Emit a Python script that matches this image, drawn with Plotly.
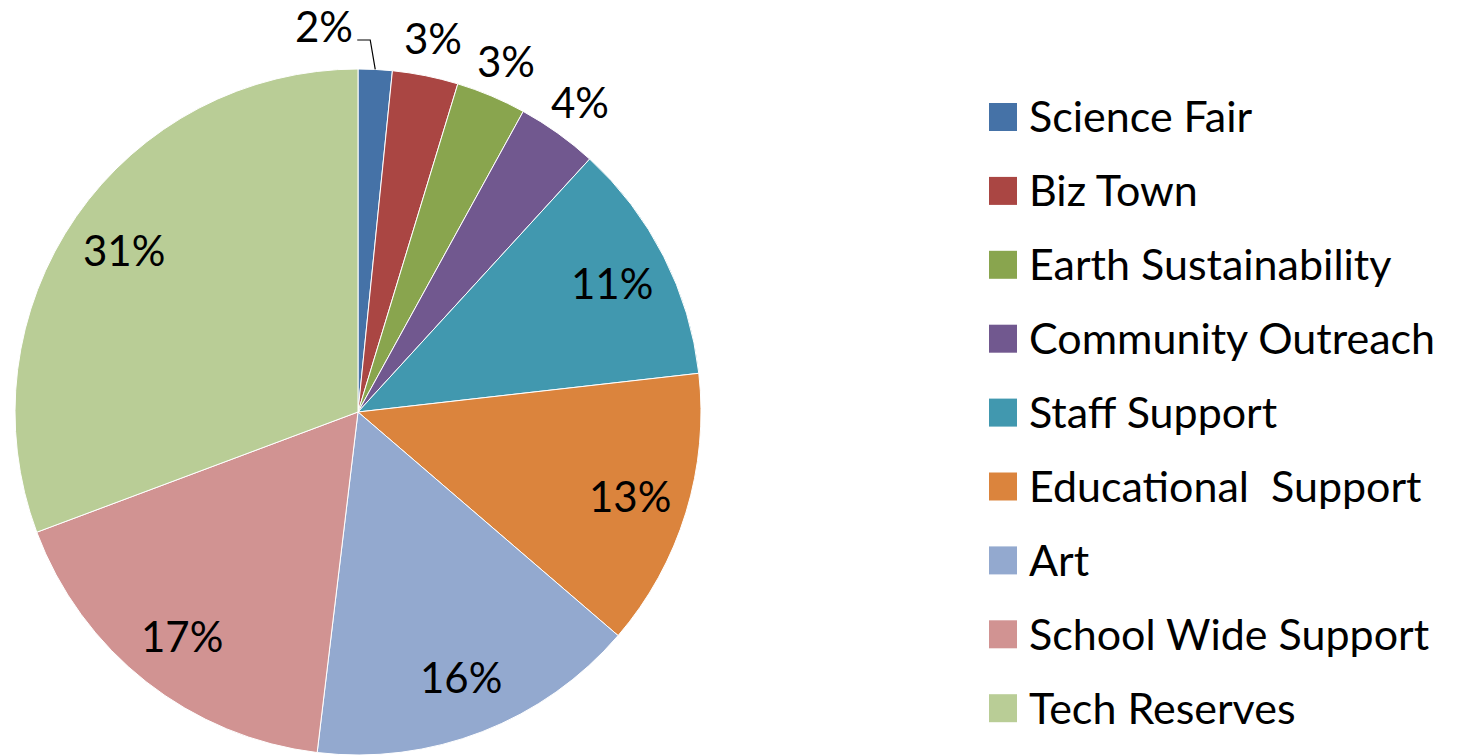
import math
import plotly.graph_objects as go

labels = ["Science Fair", "Biz Town", "Earth Sustainability", "Community Outreach",
          "Staff Support", "Educational  Support", "Art", "School Wide Support", "Tech Reserves"]
values = [1.6, 3.1, 3.3, 3.8, 11.4, 13.1, 15.6, 17.4, 30.7]
colors = ["#4572A7", "#AA4643", "#89A54E", "#71588F", "#4198AF",
          "#DB843D", "#93A9CF", "#D19392", "#B9CD96"]
label_outside = [True, True, True, True, False, False, False, False, False]

FONT = "Lato"
W, H = 1462, 755
CX, CY, R = 358, 412, 343  # pie centre and radius in pixels


def px(x):
    return x / W


def py(y):
    return 1 - y / H


fig = go.Figure()
fig.add_trace(go.Pie(
    labels=labels, values=values, sort=False, direction="clockwise", rotation=0,
    marker=dict(colors=colors, line=dict(color="white", width=1)),
    textinfo="none", showlegend=False, hoverinfo="label+percent", automargin=False,
    domain=dict(x=[px(CX - R), px(CX + R)], y=[0, py(CY - R)]),
))

shapes, annotations = [], []

# percentage labels, placed at each slice's mid-angle
total = sum(values)
cum = 0.0
for i, v in enumerate(values):
    mid = (cum + v / 2) / total * 2 * math.pi
    cum += v
    txt = f"{round(100 * v / total)}%"
    font = dict(family=FONT, size=42, color="black")
    if label_outside[i]:
        if i == 0:
            # leader line from the slice edge to a label moved to the left
            ex, ey = CX + R * math.sin(mid), CY - R * math.cos(mid)
            shapes.append(dict(
                type="path", xref="paper", yref="paper",
                path=f"M {px(ex)},{py(ey)} L {px(ex - 5)},{py(40)} L {px(ex - 18)},{py(40)}",
                line=dict(color="black", width=1.2)))
            annotations.append(dict(text=txt, x=px(ex - 20), y=py(26), xref="paper", yref="paper",
                                    xanchor="right", yanchor="middle", showarrow=False, font=font))
        else:
            rr = R + 38
            annotations.append(dict(text=txt, x=px(CX + rr * math.sin(mid)),
                                    y=py(CY - rr * math.cos(mid)), xref="paper", yref="paper",
                                    xanchor="center", yanchor="middle", showarrow=False, font=font))
    else:
        rr = 0.83 * R
        annotations.append(dict(text=txt, x=px(CX + rr * math.sin(mid)),
                                y=py(CY - rr * math.cos(mid)), xref="paper", yref="paper",
                                xanchor="center", yanchor="middle", showarrow=False, font=font))

# legend built from the label and colour lists
x0, y_top, step, sq = 989, 117, 73.9, 28
for i, (lab, col) in enumerate(zip(labels, colors)):
    yc = y_top + i * step
    shapes.append(dict(type="rect", xref="paper", yref="paper",
                       x0=px(x0), x1=px(x0 + sq), y0=py(yc + sq / 2), y1=py(yc - sq / 2),
                       fillcolor=col, line=dict(width=0)))
    annotations.append(dict(text=lab, xref="paper", yref="paper",
                            x=px(1027), y=py(yc - 1), xanchor="left", yanchor="middle",
                            showarrow=False, font=dict(family=FONT, size=43, color="black")))

fig.update_layout(
    width=W, height=H, margin=dict(l=0, r=0, t=0, b=0, autoexpand=False),
    paper_bgcolor="white", plot_bgcolor="white",
    shapes=shapes, annotations=annotations,
)
fig.write_html("out.html")
